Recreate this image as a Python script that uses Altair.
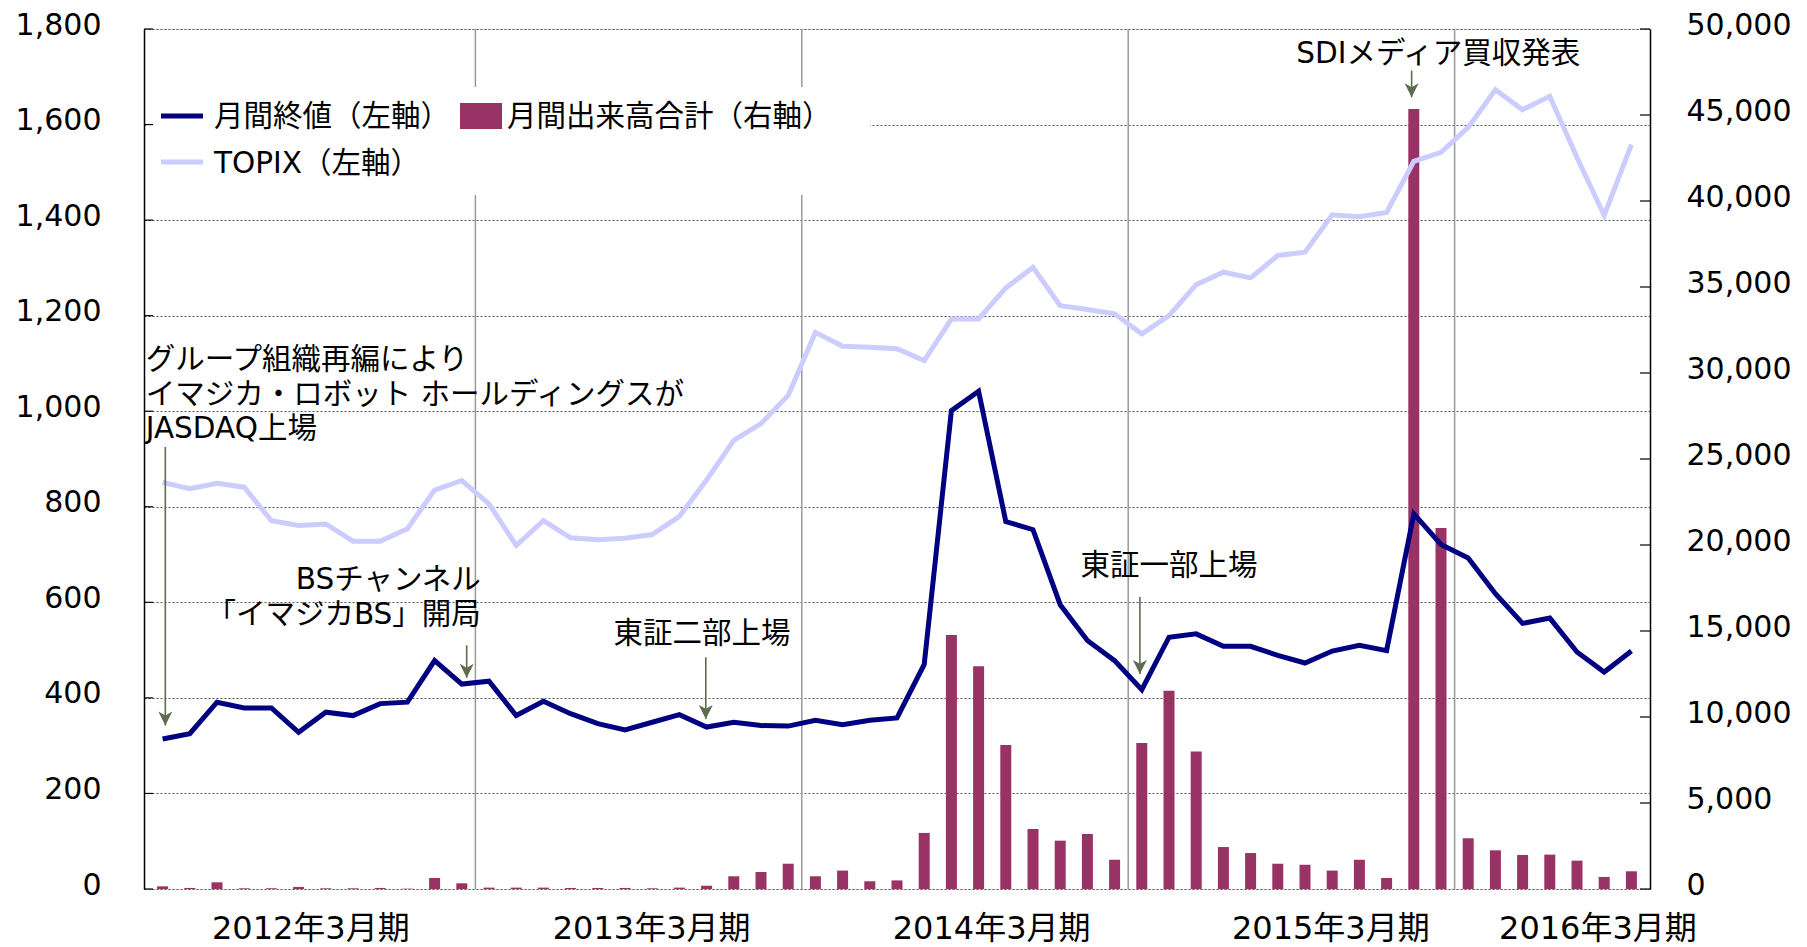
import altair as alt
import pandas as pd

# ---------------- data ----------------
# 55 months: Apr 2011 .. Oct 2015 (fiscal years ending March)
months = list(range(55))

close = [314, 325, 391, 379, 379, 328, 370, 363, 388, 391,
         478, 429, 435, 363, 393, 367, 346, 333, 349, 365,
         339, 349, 342, 341, 353, 344, 353, 358, 470, 1001,
         1042, 769, 752, 595, 520, 478, 417, 527, 534, 508,
         508, 489, 473, 498, 510, 499, 785, 721, 693, 618,
         556, 567, 496, 454, 498]

topix = [851, 838, 849, 841, 771, 761, 764, 728, 728, 754,
         835, 855, 806, 719, 771, 735, 731, 734, 742, 780,
         856, 939, 974, 1033, 1165, 1136, 1134, 1131, 1106, 1193,
         1193, 1258, 1301, 1221, 1213, 1204, 1162, 1200, 1265, 1291,
         1279, 1326, 1333, 1411, 1407, 1416, 1523, 1542, 1594, 1673,
         1631, 1659, 1531, 1410, 1558]

volume = [155, 60, 390, 40, 40, 120, 40, 40, 60, 20,
          640, 330, 80, 80, 80, 60, 60, 60, 40, 80,
          190, 740, 990, 1470, 740, 1070, 450, 500, 3260, 14770,
          12950, 8370, 3490, 2810, 3200, 1700, 8490, 11530, 8000, 2440,
          2090, 1470, 1410, 1070, 1700, 640, 45350, 20990, 2950, 2250,
          1980, 2000, 1650, 700, 1030]

left_ticks = [0, 200, 400, 600, 800, 1000, 1200, 1400, 1600, 1800]
right_ticks = [0, 5000, 10000, 15000, 20000, 25000, 30000, 35000, 40000, 45000, 50000]

fy_labels = ["2012年3月期", "2013年3月期", "2014年3月期", "2015年3月期", "2016年3月期"]
fy_label_pos = [5.95, 18.48, 30.98, 43.45, 53.27]
sep_pos = [12, 24, 36, 48]

ann_text = ["グループ組織再編により", "イマジカ・ロボット ホールディングスが", "JASDAQ上場",
            "BSチャンネル", "「イマジカBS」開局",
            "東証二部上場", "東証一部上場", "SDIメディア買収発表"]
ann_x = [-0.12, -0.12, -0.12, 12.2, 12.2, 20.33, 37.5, 47.4]
ann_y = [1108, 1035, 962, 646, 573, 533, 676, 1748]
ann_align = ["left", "left", "left", "right", "right", "center", "center", "center"]

arrow_x = [0.6, 11.68, 20.47, 36.43, 46.42]
arrow_top = [925, 510, 485, 611, 1713]
arrow_tip = [342, 442, 356, 450, 1657]

legend_labels = ["月間終値（左軸）", "月間出来高合計（右軸）", "TOPIX（左軸）"]

# ---------------- styling ----------------
FONT = "DejaVu Sans, Noto Sans CJK JP"
NAVY = "#000080"
LAV = "#CCCCFF"
BAR = "#993366"
ARROW = "#5E6B4E"
W, H = 1506, 860

df = pd.DataFrame({"pos": [m + 0.5 for m in months], "close": close,
                   "topix": topix, "volume": volume})


def xs():
    return alt.Scale(domain=[0, 55], nice=False, zero=False)


def yl():
    return alt.Scale(domain=[0, 1800], nice=False, zero=True)


def yr():
    return alt.Scale(domain=[0, 50000], nice=False, zero=True)


left_axis = alt.Axis(values=left_ticks, format=",d", title=None, orient="left",
                     labelFont=FONT, labelFontSize=30, labelColor="#000",
                     labelPadding=43, ticks=False, labelOffset=-4,
                     domainColor="#000", domainWidth=1.5,
                     grid=True, gridColor="#555", gridDash=[2, 2], gridWidth=1)
right_axis = alt.Axis(values=right_ticks, format=",d", title=None, orient="right",
                      labelFont=FONT, labelFontSize=30, labelColor="#000",
                      labelPadding=36, ticks=False, labelOffset=-4,
                      domainColor="#000", domainWidth=1.5, grid=False)

one = pd.DataFrame({"a": [0]})

seps = alt.Chart(pd.DataFrame({"s": sep_pos})).mark_rule(
    color="#999", strokeWidth=1.5).encode(
    x=alt.X("s:Q", scale=xs(), axis=None), y=alt.value(0), y2=alt.value(H))

bars = alt.Chart(df).mark_bar(width=11, color=BAR).encode(
    x=alt.X("pos:Q", scale=xs(), axis=None),
    y=alt.Y("volume:Q", scale=yr(), axis=right_axis))

rticks = alt.Chart(pd.DataFrame({"v": right_ticks})).mark_rule(
    color="#000", strokeWidth=1.2).encode(
    x=alt.value(W - 10), x2=alt.value(W),
    y=alt.Y("v:Q", scale=yr(), axis=None))

legend_bg = alt.Chart(one).mark_rect(color="white").encode(
    x=alt.value(2), x2=alt.value(726), y=alt.value(58), y2=alt.value(166))

lticks = alt.Chart(pd.DataFrame({"v": left_ticks})).mark_rule(
    color="#000", strokeWidth=1.2).encode(
    x=alt.value(0), x2=alt.value(9),
    y=alt.Y("v:Q", scale=yl(), axis=None))

topix_line = alt.Chart(df).mark_line(color=LAV, strokeWidth=5).encode(
    x=alt.X("pos:Q", scale=xs(), axis=None),
    y=alt.Y("topix:Q", scale=yl(), axis=None))

close_line = alt.Chart(df).mark_line(color=NAVY, strokeWidth=5).encode(
    x=alt.X("pos:Q", scale=xs(), axis=None),
    y=alt.Y("close:Q", scale=yl(), axis=left_axis))

ann = pd.DataFrame({"t": ann_text, "x": ann_x, "y": ann_y, "al": ann_align})
ann_layers = []
for al in ["left", "right", "center"]:
    ann_layers.append(
        alt.Chart(ann).transform_filter(alt.datum.al == al).mark_text(
            align=al, baseline="middle", font=FONT, fontSize=29.5, color="#000").encode(
            x=alt.X("x:Q", scale=xs(), axis=None),
            y=alt.Y("y:Q", scale=yl(), axis=None),
            text="t:N"))

arr = pd.DataFrame({"x": arrow_x, "top": arrow_top, "tip": arrow_tip})
shafts = alt.Chart(arr).mark_rule(color=ARROW, strokeWidth=1.6).encode(
    x=alt.X("x:Q", scale=xs(), axis=None),
    y=alt.Y("top:Q", scale=yl(), axis=None), y2="tip:Q")
heads = alt.Chart(arr).mark_point(
    shape="M0,1L-1,-1L0,-0.45L1,-1Z", filled=True, size=196, opacity=1,
    color=ARROW, yOffset=-7).encode(
    x=alt.X("x:Q", scale=xs(), axis=None),
    y=alt.Y("tip:Q", scale=yl(), axis=None))

fy = pd.DataFrame({"t": fy_labels, "x": fy_label_pos})
fy_text = alt.Chart(fy).mark_text(
    align="center", baseline="middle", font=FONT, fontSize=32, color="#000").encode(
    x=alt.X("x:Q", scale=xs(), axis=None), y=alt.value(H + 40), text="t:N")

leg1_sym = alt.Chart(one).mark_rule(color=NAVY, strokeWidth=5).encode(
    x=alt.value(17), x2=alt.value(59), y=alt.value(87))
leg2_sym = alt.Chart(one).mark_rect(color=BAR).encode(
    x=alt.value(316), x2=alt.value(358), y=alt.value(74), y2=alt.value(100))
leg3_sym = alt.Chart(one).mark_rule(color=LAV, strokeWidth=5).encode(
    x=alt.value(17), x2=alt.value(59), y=alt.value(133))


def leg_text(label, x, y):
    return alt.Chart(pd.DataFrame({"t": [label]})).mark_text(
        align="left", baseline="middle", font=FONT, fontSize=29.5, color="#000").encode(
        x=alt.value(x), y=alt.value(y), text="t:N")


chart = alt.layer(
    bars, seps, rticks, legend_bg, lticks, topix_line, close_line, *ann_layers,
    shafts, heads, fy_text, leg1_sym, leg2_sym, leg3_sym,
    leg_text(legend_labels[0], 70, 88),
    leg_text(legend_labels[1], 363, 88),
    leg_text(legend_labels[2], 70, 135),
).resolve_scale(y="independent").properties(
    width=W, height=H,
    padding={"left": 136, "top": 21, "right": 148, "bottom": 70},
    autosize=alt.AutoSizeParams(type="none"),
).configure_view(stroke="#999", strokeWidth=2).configure(background="white")

chart.save("out.html", embed_options={"renderer": "svg", "actions": False})
